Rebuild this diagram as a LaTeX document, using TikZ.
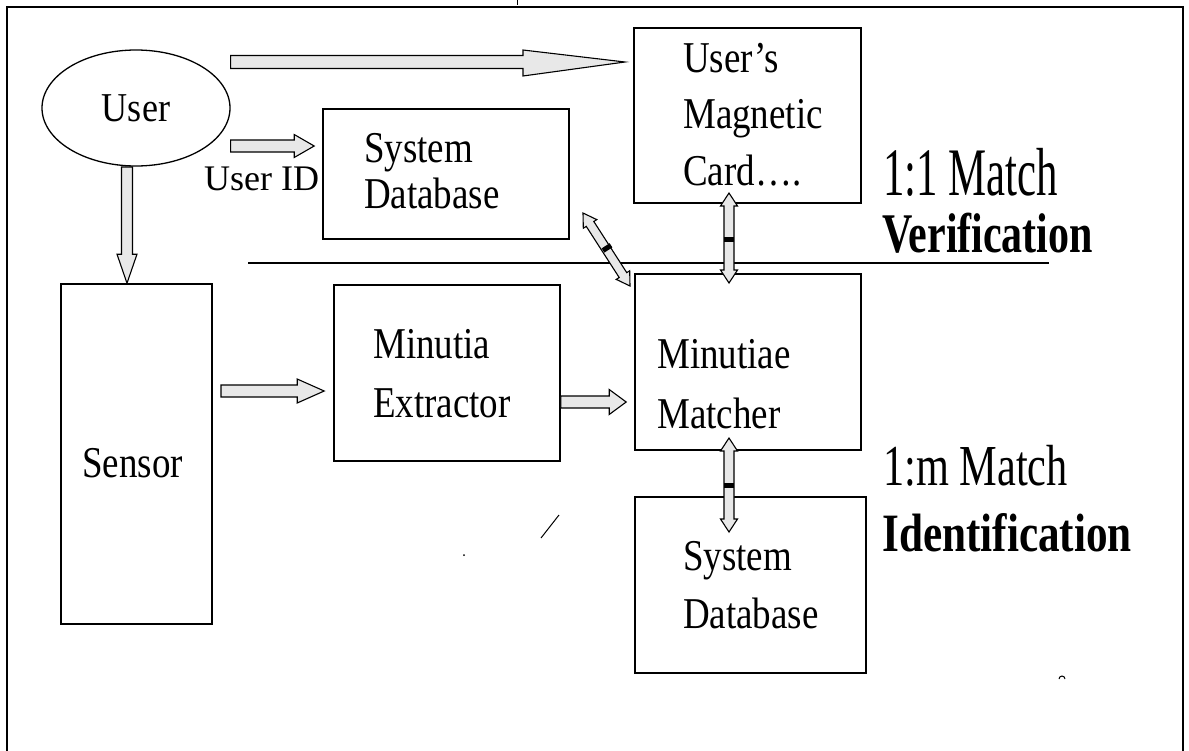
\documentclass[tikz,border=0pt]{standalone}
\usepackage{fontspec}
\setmainfont{Liberation Serif}
\newfontfamily\boxfont[FakeStretch=0.84]{Liberation Serif}
\newfontfamily\userfont[FakeStretch=0.88]{Liberation Serif}
\newfontfamily\uidfont{Liberation Serif}
\newfontfamily\matchAfont[FakeStretch=0.63]{Liberation Serif}
\newfontfamily\matchBfont[FakeStretch=0.73]{Liberation Serif}
\newfontfamily\verfont[FakeStretch=0.75]{Liberation Serif}
\newfontfamily\identfont[FakeStretch=0.8]{Liberation Serif}
\usetikzlibrary{shapes.geometric,calc}

\newcommand\blockarrow[5]{%
  \draw[barrow] ($(#1)!#3!90:(#2)$) -- ($(#2)!#5!(#1)!#3!-90:(#1)$)
    -- ($(#2)!#5!(#1)!#4!-90:(#1)$) -- (#2)
    -- ($(#2)!#5!(#1)!#4!90:(#1)$) -- ($(#2)!#5!(#1)!#3!90:(#1)$)
    -- ($(#1)!#3!-90:(#2)$) -- cycle;}
\newcommand\dblarrow[5]{%
  \draw[barrow] (#1) -- ($(#1)!#5!(#2)!#4!90:(#2)$) -- ($(#1)!#5!(#2)!#3!90:(#2)$)
    -- ($(#2)!#5!(#1)!#3!-90:(#1)$) -- ($(#2)!#5!(#1)!#4!-90:(#1)$) -- (#2)
    -- ($(#2)!#5!(#1)!#4!90:(#1)$) -- ($(#2)!#5!(#1)!#3!90:(#1)$)
    -- ($(#1)!#5!(#2)!#3!-90:(#2)$) -- ($(#1)!#5!(#2)!#4!-90:(#2)$) -- cycle;}

\begin{document}
\begin{tikzpicture}[x=1pt,y=-1pt,
  box/.style={draw=black, line width=1.6pt, rectangle, inner sep=0pt},
  barrow/.style={draw=black, line width=1.1pt, fill=gray!18, line join=miter},
  txt/.style={anchor=base west, inner sep=0pt, align=left},
  band/.style={fill=black, draw=none}]
\useasboundingbox (0,0) rectangle (1189,750);
\fill[white] (0,0) rectangle (1189,750);
% outer frame (bottom edge lies outside the picture)
\draw[line width=1.6pt] (7,752) -- (7,7) -- (1183,7) -- (1183,752);

% nodes
\node[draw=black, line width=1.3pt, ellipse, inner sep=0pt, minimum width=188, minimum height=116,
      font=\userfont\fontsize{41}{44}\selectfont] (user) at (136,108) {\raisebox{-3pt}{User}};
\node[box, minimum width=246, minimum height=130] (db1) at (446,174) {};
\node[box, minimum width=227, minimum height=175] (card) at (747.5,115.5) {};
\node[box, minimum width=151, minimum height=340] (sensor) at (136.5,454) {};
\node[box, minimum width=226, minimum height=176] (extr) at (447,373) {};
\node[box, minimum width=226, minimum height=176] (match) at (748,362) {};
\node[box, minimum width=231, minimum height=176] (db2) at (750.5,585) {};

% texts (anchor = baseline of the last line)
\node[txt, font=\uidfont\fontsize{36}{40}\selectfont] (uidT) at (204,190) {User ID};
\node[txt, font=\boxfont\fontsize{44}{46}\selectfont] (db1T) at (364,208) {System\\Database};
\node[txt, font=\boxfont\fontsize{44}{56.5}\selectfont] (cardT) at (683,185) {User’s\\Magnetic\\Card….};
\node[txt, font=\boxfont\fontsize{44}{50}\selectfont] (sensorT) at (82,477) {Sensor};
\node[txt, font=\boxfont\fontsize{44}{59}\selectfont] (extrT) at (373,417) {Minutia\\Extractor};
\node[txt, font=\boxfont\fontsize{44}{60}\selectfont] (matchT) at (657,428) {Minutiae\\Matcher};
\node[txt, font=\boxfont\fontsize{44}{58}\selectfont] (db2T) at (683,628) {System\\Database};
\node[txt, font=\matchAfont\fontsize{68}{70}\selectfont] (m11) at (883,195) {1:1 Match};
\node[txt, font=\verfont\bfseries\fontsize{56}{60}\selectfont] (ver) at (882,252) {Verification};
\node[txt, font=\matchBfont\fontsize{58}{60}\selectfont] (m1m) at (883,485) {1:m Match};
\node[txt, font=\identfont\bfseries\fontsize{54}{60}\selectfont] (ident) at (882,551) {Identification};

% separator line
\coordinate (sepL) at (248,263);
\coordinate (sepR) at (1049,263);
\draw[line width=2.8pt] (sepL) -- (sepR);

% arrow end points
\coordinate (a1s) at (user.east |- 0,62);
\coordinate (a1e) at (625,62);
\coordinate (a2s) at (user.east |- 0,146);
\coordinate (a2e) at ($(db1.west |- 0,146)+(-8,0)$);
\coordinate (a3s) at (127,167);
\coordinate (a3e) at (127,0 |- sensor.north);
\coordinate (a4s) at (221,391);
\coordinate (a4e) at ($(extr.west |- 0,391)+(-9,0)$);
\coordinate (a5s) at (extr.east |- 0,402);
\coordinate (a5e) at ($(match.west |- 0,402)+(-8,0)$);
\coordinate (a6s) at (729,193);
\coordinate (a6e) at (729,283);
\coordinate (a7s) at (729,438);
\coordinate (a7e) at (729,532);
\coordinate (a8s) at (583,213);
\coordinate (a8e) at (630,286);

% top arrow with long tapering head
\draw[barrow] ($(a1s)+(0,-6.5)$) -- (523,55.5) -- (523,50) -- (a1e) -- (523,76) -- (523,68.5) -- ($(a1s)+(0,6.5)$) -- cycle;
\blockarrow{a2s}{a2e}{6pt}{11.5pt}{20pt}
\blockarrow{a3s}{a3e}{5.5pt}{10pt}{29pt}
\blockarrow{a4s}{a4e}{6pt}{12pt}{27pt}
\blockarrow{a5s}{a5e}{6pt}{12.5pt}{17pt}
\dblarrow{a6s}{a6e}{5pt}{8.5pt}{13pt}
\dblarrow{a7s}{a7e}{5pt}{8.5pt}{13pt}
\dblarrow{a8s}{a8e}{4.5pt}{8pt}{13pt}
% dark overlap bands
\fill[band] (724,237) rectangle (734,242);
\fill[band] (724,483) rectangle (734,488);
\draw[line width=5pt] (603,250.5) -- (611,245.3);

% scanning marks
\draw[line width=1pt] (541,538) -- (559,515);
\fill (464,555) circle (1);
\draw[line width=1pt] (1059,679) arc (180:360:3);
\draw[line width=1pt] (517,0) -- (517,5);
\end{tikzpicture}
\end{document}
